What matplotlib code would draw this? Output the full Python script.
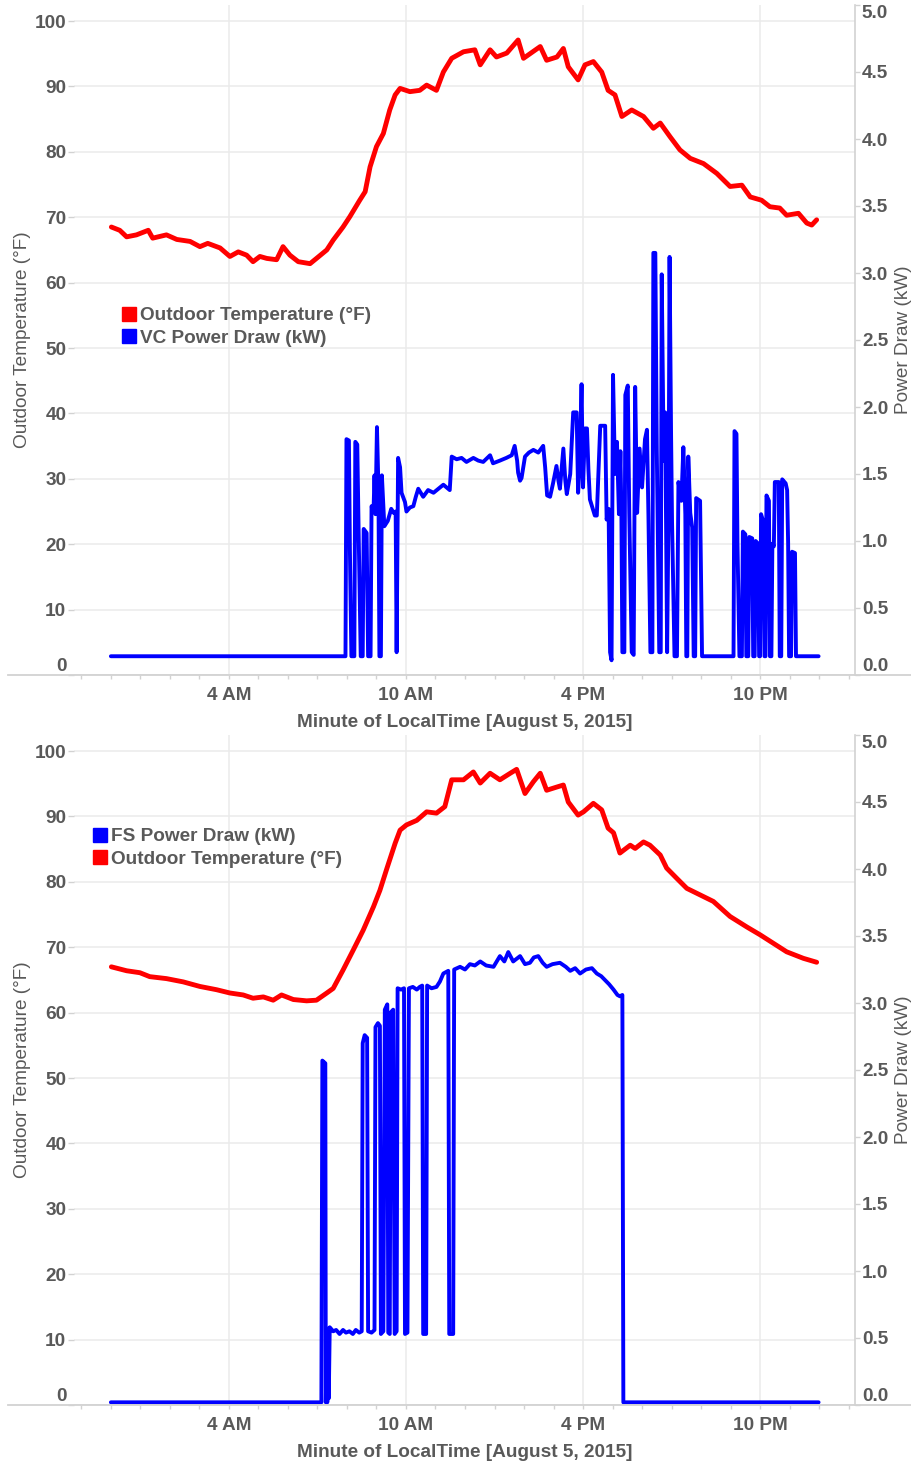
import matplotlib
matplotlib.use("Agg")
import matplotlib.pyplot as plt
from matplotlib.lines import Line2D

plt.rcParams['font.family'] = ['Liberation Sans', 'DejaVu Sans']
plt.rcParams['font.weight'] = 'bold'

# ---------------------------------------------------------------------------
# data (minute of day, value)
# ---------------------------------------------------------------------------
hour_ticks = [240, 600, 960, 1320]
hour_labels = ['4 AM', '10 AM', '4 PM', '10 PM']
x_title = 'Minute of LocalTime [August 5, 2015]'

temp_label = 'Outdoor Temperature (°F)'
vc_label = 'VC Power Draw (kW)'
fs_label = 'FS Power Draw (kW)'

# top panel - outdoor temperature
top_temp_min = [1, 18, 32, 52, 76, 85, 113, 134, 161, 181, 197, 222, 242, 259, 276,
                289, 303, 317, 337, 350, 364, 381, 405, 418, 439, 452, 472, 486, 506,
                517, 527, 540, 554, 567, 578, 588, 608, 628, 642, 662, 676, 693, 717,
                740, 751, 771, 784, 805, 828, 839, 873, 886, 907, 920, 930, 950, 964,
                981, 998, 1011, 1025, 1039, 1059, 1083, 1103, 1117, 1137, 1157, 1178,
                1205, 1232, 1259, 1283, 1300, 1323, 1340, 1360, 1374, 1398, 1415,
                1425, 1435]
top_temp_f = [68.5, 68.0, 67.0, 67.3, 68.0, 66.8, 67.3, 66.6, 66.3, 65.5, 66.0, 65.3,
              64.0, 64.7, 64.2, 63.2, 64.0, 63.7, 63.5, 65.5, 64.2, 63.2, 62.9, 63.7,
              65.0, 66.5, 68.5, 70.1, 72.6, 73.9, 77.7, 80.8, 82.8, 86.4, 88.7, 89.7,
              89.2, 89.4, 90.2, 89.4, 92.2, 94.3, 95.3, 95.6, 93.3, 95.6, 94.5, 95.1,
              97.1, 94.3, 96.1, 94.0, 94.5, 95.8, 93.0, 91.0, 93.3, 93.8, 92.2, 89.4,
              88.7, 85.4, 86.4, 85.4, 83.6, 84.4, 82.3, 80.3, 79.0, 78.2, 76.7, 74.7,
              74.9, 73.1, 72.6, 71.6, 71.4, 70.3, 70.6, 69.1, 68.8, 69.6]

# top panel - VC power draw
vc_min = [0, 477, 479, 484, 486, 489, 495, 497, 501, 504, 508, 512, 514, 520, 523, 528,
          530, 534, 536, 538, 541, 544, 546, 549, 551, 556, 563, 570, 575, 579, 581,
          584, 588, 591, 598, 601, 608, 615, 620, 625, 630, 635, 645, 656, 666, 676,
          689, 693, 703, 713, 723, 737, 747, 757, 771, 777, 791, 804, 815, 821, 826,
          828, 832, 835, 842, 850, 859, 869, 879, 883, 887, 893, 899, 906, 910, 913,
          920, 924, 927, 934, 940, 947, 950, 953, 957, 960, 964, 968, 971, 974, 984,
          988, 995, 1005, 1008, 1012, 1015, 1018, 1021, 1025, 1029, 1033, 1036, 1038,
          1040, 1044, 1046, 1051, 1054, 1059, 1063, 1066, 1070, 1075, 1080, 1086,
          1090, 1093, 1097, 1101, 1103, 1107, 1110, 1115, 1118, 1120, 1124, 1127,
          1131, 1134, 1136, 1139, 1141, 1146, 1151, 1154, 1160, 1164, 1168, 1170,
          1172, 1174, 1178, 1182, 1185, 1188, 1190, 1198, 1202, 1266, 1268, 1272,
          1274, 1278, 1283, 1285, 1290, 1292, 1296, 1298, 1304, 1306, 1309, 1311,
          1316, 1318, 1320, 1322, 1327, 1329, 1331, 1333, 1338, 1340, 1343, 1345,
          1348, 1350, 1358, 1360, 1363, 1365, 1372, 1375, 1377, 1379, 1383, 1385,
          1391, 1393, 1439]
vc_kw = [0.14, 0.14, 1.76, 1.75, 0.93, 0.14, 0.14, 1.74, 1.72, 1.01, 0.14, 0.14, 1.09,
         1.06, 0.14, 0.14, 1.26, 1.22, 1.49, 1.20, 1.85, 1.40, 0.14, 0.14, 1.49, 1.11,
         1.15, 1.24, 1.21, 1.22, 0.17, 1.62, 1.55, 1.36, 1.29, 1.22, 1.25, 1.26, 1.33,
         1.39, 1.36, 1.33, 1.38, 1.36, 1.39, 1.42, 1.38, 1.63, 1.61, 1.62, 1.59, 1.62,
         1.60, 1.59, 1.64, 1.58, 1.60, 1.62, 1.64, 1.71, 1.60, 1.51, 1.45, 1.47, 1.63,
         1.66, 1.68, 1.66, 1.71, 1.55, 1.34, 1.33, 1.43, 1.56, 1.45, 1.39, 1.69, 1.45,
         1.35, 1.50, 1.96, 1.96, 1.36, 1.55, 2.17, 1.40, 1.84, 1.84, 1.53, 1.31, 1.19,
         1.19, 1.86, 1.86, 1.16, 1.24, 0.17, 0.11, 2.24, 1.50, 1.74, 1.20, 1.67, 1.21,
         0.17, 0.17, 2.09, 2.16, 1.21, 0.17, 0.15, 2.15, 1.21, 1.69, 1.40, 1.76, 1.83,
         1.19, 0.17, 0.17, 3.15, 3.15, 1.67, 0.17, 0.17, 2.99, 1.60, 1.96, 0.17, 1.30,
         3.12, 1.80, 1.14, 0.14, 0.14, 1.44, 1.30, 1.70, 1.20, 0.14, 0.14, 1.63, 1.21,
         1.10, 0.14, 0.14, 1.32, 1.30, 0.14, 0.14, 1.82, 1.80, 0.99, 0.14, 0.14, 1.07,
         1.05, 0.14, 0.14, 1.03, 1.02, 0.14, 0.14, 1.00, 0.98, 0.14, 0.14, 1.20, 1.14,
         0.14, 0.14, 1.34, 1.30, 0.14, 0.14, 0.98, 0.96, 1.44, 1.44, 0.14, 0.14, 1.46,
         1.43, 1.38, 0.99, 0.14, 0.14, 0.92, 0.91, 0.14, 0.14]

# bottom panel - outdoor temperature
bot_temp_min = [1, 32, 59, 79, 113, 147, 181, 215, 242, 269, 289, 310, 330, 347, 371,
                398, 418, 439, 452, 472, 493, 513, 534, 547, 561, 578, 588, 601, 622,
                642, 662, 679, 693, 717, 737, 751, 771, 791, 812, 825, 842, 859, 873,
                886, 907, 920, 930, 950, 961, 981, 998, 1011, 1022, 1035, 1056, 1066,
                1083, 1096, 1117, 1130, 1151, 1171, 1198, 1225, 1259, 1293, 1320, 1347,
                1374, 1408, 1435]
bot_temp_f = [67.0, 66.4, 66.1, 65.5, 65.2, 64.7, 64.0, 63.5, 63.0, 62.7, 62.2, 62.4,
              61.9, 62.7, 62.0, 61.8, 61.9, 63.0, 63.7, 66.5, 69.6, 72.6, 76.2, 78.7,
              82.0, 85.9, 87.9, 88.7, 89.4, 90.7, 90.5, 91.5, 95.6, 95.6, 96.8, 95.1,
              96.6, 95.6, 96.6, 97.2, 93.5, 95.3, 96.6, 94.0, 94.5, 94.8, 92.2, 90.2,
              90.7, 92.0, 91.0, 88.2, 87.5, 84.4, 85.6, 85.1, 86.1, 85.6, 84.1, 82.1,
              80.5, 79.0, 78.0, 77.0, 74.7, 73.1, 71.9, 70.6, 69.3, 68.3, 67.7]

# bottom panel - FS power draw
fs_min = [0, 428, 430, 433, 436, 437, 439, 440, 442, 443, 445, 452, 458, 465, 472, 478,
          485, 492, 498, 505, 510, 512, 516, 521, 523, 530, 536, 538, 543, 547, 549,
          554, 557, 562, 564, 567, 569, 574, 577, 581, 583, 590, 596, 598, 603, 606,
          614, 622, 628, 633, 635, 641, 643, 652, 662, 669, 676, 686, 688, 696, 698,
          710, 720, 730, 740, 751, 763, 778, 791, 800, 808, 818, 832, 842, 852, 860,
          869, 878, 886, 898, 913, 925, 934, 944, 954, 966, 978, 988, 997, 1005, 1013,
          1022, 1030, 1035, 1040, 1042, 1439]
fs_kw = [0.02, 0.02, 2.57, 2.56, 2.55, 0.02, 0.55, 0.02, 0.57, 0.05, 0.58, 0.55, 0.56,
         0.53, 0.56, 0.54, 0.55, 0.53, 0.56, 0.54, 0.55, 2.70, 2.76, 2.74, 0.55, 0.54,
         0.56, 2.82, 2.85, 2.83, 0.53, 0.55, 2.95, 2.99, 0.54, 0.53, 2.93, 2.95, 0.53,
         0.55, 3.11, 3.10, 3.11, 0.53, 0.54, 3.11, 3.12, 3.10, 3.12, 3.13, 0.53, 0.53,
         3.13, 3.11, 3.12, 3.16, 3.22, 3.24, 0.53, 0.53, 3.25, 3.27, 3.25, 3.29, 3.28,
         3.31, 3.28, 3.27, 3.35, 3.31, 3.38, 3.31, 3.35, 3.29, 3.30, 3.34, 3.35, 3.30,
         3.27, 3.29, 3.30, 3.27, 3.24, 3.26, 3.22, 3.25, 3.26, 3.22, 3.20, 3.17, 3.14,
         3.10, 3.06, 3.05, 3.06, 0.02, 0.02]

# ---------------------------------------------------------------------------
TXT = '#595959'
GRID = '#ebebeb'
AXLINE = '#d2d2d2'
RED = '#ff0000'
BLUE = '#0000ff'
FS = 13.7

W, H = 911, 1462
fig = plt.figure(figsize=(W / 100, H / 100), dpi=100)
fig.patch.set_facecolor('white')


def draw_panel(top_px, temp_m, temp_f, pw_m, pw_kw, pw_label, power_first, leg_xy):
    left_px, right_px = 74, 855
    bottom_px = top_px + 670
    ax = fig.add_axes([left_px / W, (H - bottom_px) / H,
                       (right_px - left_px) / W, 670 / H])
    ax2 = ax.twinx()

    ax.plot(temp_m, temp_f, color=RED, lw=3.5, solid_joinstyle='round',
            solid_capstyle='round', zorder=3)
    ax2.plot(pw_m, pw_kw, color=BLUE, lw=2.8, solid_joinstyle='round',
             solid_capstyle='round', zorder=3)

    ax.set_xlim(-75, 1513)
    ax.set_ylim(0, 102.45)
    ax2.set_ylim(0, 5.0)

    ax.set_xticks(hour_ticks, hour_labels)
    ax.set_xticks(range(-60, 1501, 60), minor=True)
    ax.set_yticks(range(0, 101, 10))
    ax2.set_yticks([i * 0.5 for i in range(11)],
                   ['%.1f' % (i * 0.5) for i in range(11)])

    ax.grid(axis='y', color=GRID, lw=1.1)
    ax.grid(axis='x', which='major', color=GRID, lw=1.1)
    ax.set_axisbelow(True)

    for sp in ax.spines.values():
        sp.set_visible(False)
    for name, sp in ax2.spines.items():
        sp.set_visible(name == 'right')
    ax2.spines['right'].set_color(AXLINE)
    ax2.spines['right'].set_linewidth(1.2)

    ax.tick_params(axis='x', which='both', length=3, width=1, color=AXLINE,
                   labelcolor=TXT, labelsize=FS, pad=5.5)
    ax.tick_params(axis='y', length=4, width=1, color=AXLINE,
                   labelcolor=TXT, labelsize=FS, pad=1.5)
    ax2.tick_params(axis='y', length=3.5, width=1, color=AXLINE,
                    labelcolor=TXT, labelsize=FS, pad=1.5)

    # first/last labels nudged inside like the original
    ax.get_yticklabels()[0].set_va('bottom')
    ax2.get_yticklabels()[0].set_va('bottom')
    ax2.get_yticklabels()[-1].set_va('top')

    # long baseline under the whole panel
    y_line = (H - bottom_px) / H
    fig.add_artist(Line2D([8 / W, 1], [y_line, y_line], transform=fig.transFigure,
                          color=AXLINE, lw=1.3))

    ax.set_xlabel(x_title, color=TXT, fontsize=FS, fontweight='bold', va='top')
    ax.xaxis.set_label_coords(0.5, -0.058)
    ax.set_ylabel('Outdoor Temperature (°F)', color=TXT, fontsize=FS,
                  fontweight='normal')
    ax.yaxis.set_label_coords(-0.055, 0.5)
    ax2.set_ylabel('Power Draw (kW)', color=TXT, fontsize=FS, fontweight='normal')
    ax2.yaxis.set_label_coords(1.051, 0.5)

    h_temp = Line2D([], [], ls='none', marker='s', ms=9.5, mfc=RED, mec=RED,
                    label=temp_label)
    h_pw = Line2D([], [], ls='none', marker='s', ms=9.5, mfc=BLUE, mec=BLUE,
                  label=pw_label)
    handles = [h_pw, h_temp] if power_first else [h_temp, h_pw]
    ax2.legend(handles=handles, loc='upper left', bbox_to_anchor=leg_xy,
               frameon=False, prop={'size': FS, 'weight': 'bold'},
               labelcolor=TXT, handlelength=0.7, handletextpad=0.25,
               labelspacing=0.25, borderpad=0, borderaxespad=0)
    return ax, ax2


draw_panel(5, top_temp_min, top_temp_f, vc_min, vc_kw, vc_label, False,
           (0.0615, 0.549))
draw_panel(735, bot_temp_min, bot_temp_f, fs_min, fs_kw, fs_label, True,
           (0.0243, 0.861))

fig.savefig('out.png', dpi=100)
